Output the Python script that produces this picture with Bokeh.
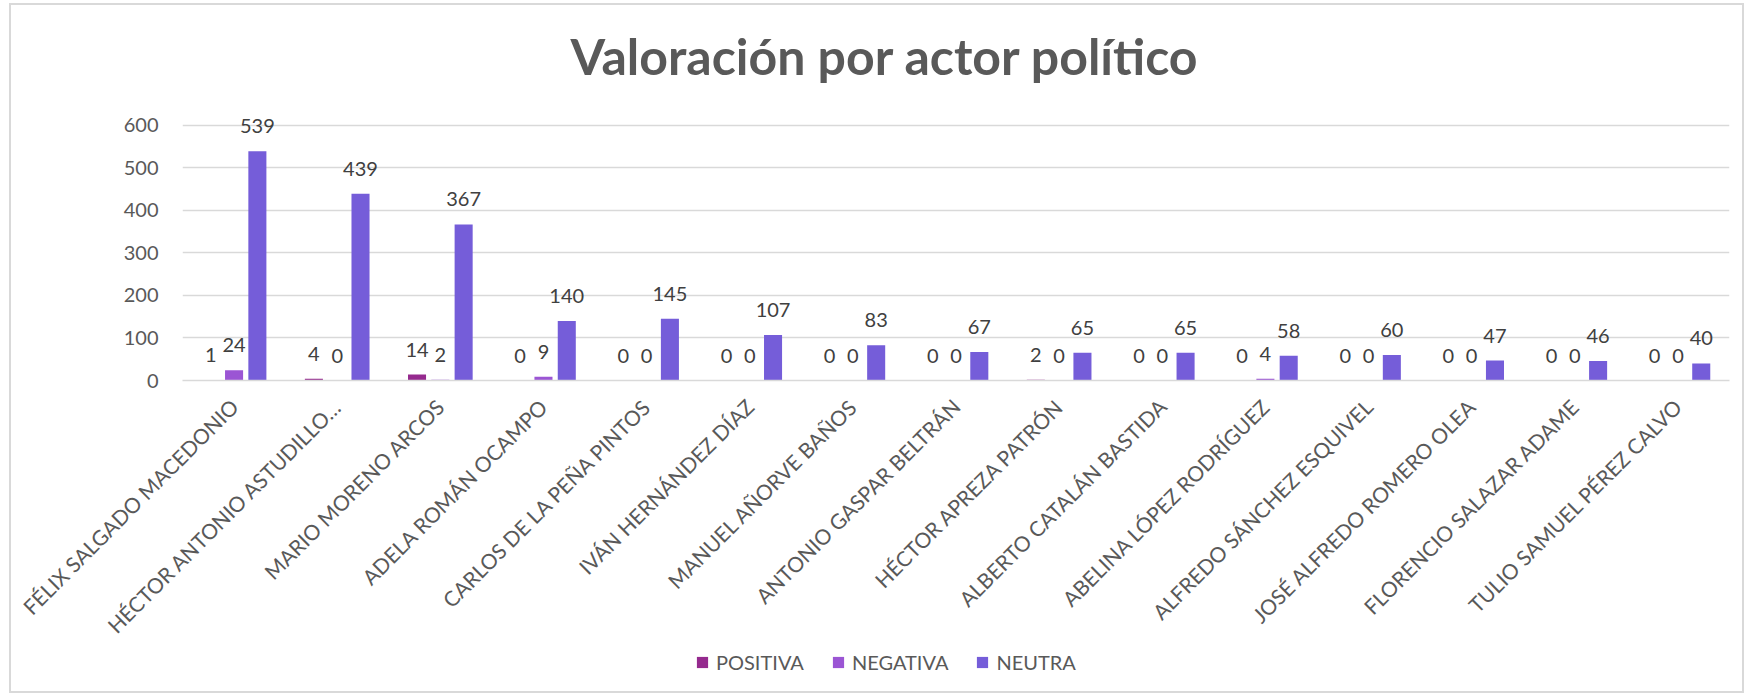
import math
from bokeh.plotting import figure
from bokeh.layouts import column
from bokeh.models import (ColumnDataSource, FactorRange, Range1d, FixedTicker,
                          LabelSet, Legend, LegendItem)
from bokeh.transform import dodge
from bokeh.core.properties import value
from bokeh.embed import file_html
from bokeh.resources import INLINE

title_text = "Valoración por actor político"
categories = [
    "FÉLIX SALGADO MACEDONIO",
    "HÉCTOR ANTONIO ASTUDILLO…",
    "MARIO MORENO ARCOS",
    "ADELA ROMÁN OCAMPO",
    "CARLOS DE LA PEÑA PINTOS",
    "IVÁN HERNÁNDEZ DÍAZ",
    "MANUEL AÑORVE BAÑOS",
    "ANTONIO GASPAR BELTRÁN",
    "HÉCTOR APREZA PATRÓN",
    "ALBERTO CATALÁN BASTIDA",
    "ABELINA LÓPEZ RODRÍGUEZ",
    "ALFREDO SÁNCHEZ ESQUIVEL",
    "JOSÉ ALFREDO ROMERO OLEA",
    "FLORENCIO SALAZAR ADAME",
    "TULIO SAMUEL PÉREZ CALVO",
]
positiva = [1, 4, 14, 0, 0, 0, 0, 0, 2, 0, 0, 0, 0, 0, 0]
negativa = [24, 0, 2, 9, 0, 0, 0, 0, 0, 0, 4, 0, 0, 0, 0]
neutra = [539, 439, 367, 140, 145, 107, 83, 67, 65, 65, 58, 60, 47, 46, 40]
series_names = ["POSITIVA", "NEGATIVA", "NEUTRA"]
series_keys = ["positiva", "negativa", "neutra"]
colors = ["#952A8E", "#9B55D4", "#755DD9"]
y_ticks = [0, 100, 200, 300, 400, 500, 600]

FONT = "Lato"
GRAY = "#595959"
GRID = "#D9D9D9"
BORDER = "2px solid #D9D9D9"

src = ColumnDataSource(dict(
    cat=categories,
    positiva=positiva, negativa=negativa, neutra=neutra,
    positiva_txt=[str(v) for v in positiva],
    negativa_txt=[str(v) for v in negativa],
    neutra_txt=[str(v) for v in neutra],
))

p = figure(x_range=FactorRange(*categories, range_padding=0),
           y_range=Range1d(0, 649),
           width=1735, height=648,
           output_backend="svg", toolbar_location=None,
           min_border_left=171, min_border_right=17,
           min_border_top=60, min_border_bottom=273,
           styles={"border-top": BORDER, "border-left": BORDER,
                   "border-right": BORDER})

p.title.text = title_text
p.title.align = "left"
p.title.offset = 388
p.title.standoff = 37
p.title.text_font = FONT
p.title.text_font_size = "50px"
p.title.text_font_style = "bold"
p.title.text_color = GRAY

offsets = [-0.226, 0.0, 0.226]
for key, off, col in zip(series_keys, offsets, colors):
    p.vbar(x=dodge("cat", off, range=p.x_range), top=key, width=0.175,
           source=src, fill_color=col, line_color=None)
    lbl = LabelSet(x=dodge("cat", off, range=p.x_range), y=key, text=key + "_txt",
                   source=src, text_align="center", text_baseline="alphabetic",
                   y_offset=18, text_font=value(FONT), text_font_size="20px",
                   text_color="#404040")
    p.add_layout(lbl)

p.yaxis.ticker = FixedTicker(ticks=y_ticks)
p.yaxis.axis_line_color = None
p.yaxis.major_tick_line_color = None
p.yaxis.minor_tick_line_color = None
p.yaxis.major_tick_out = 0
p.yaxis.major_tick_in = 0
p.yaxis.major_label_standoff = 24
p.yaxis.major_label_text_font = FONT
p.yaxis.major_label_text_font_size = "20px"
p.yaxis.major_label_text_color = GRAY

p.xaxis.axis_line_color = GRID
p.xaxis.axis_line_width = 1.5
p.xaxis.major_tick_line_color = None
p.xaxis.minor_tick_line_color = None
p.xaxis.major_tick_out = 0
p.xaxis.major_tick_in = 0
p.xaxis.major_label_orientation = math.pi / 4
p.xaxis.major_label_standoff = 22
p.xaxis.major_label_text_font = FONT
p.xaxis.major_label_text_font_size = "21px"
p.xaxis.major_label_text_color = GRAY

p.xgrid.grid_line_color = None
p.ygrid.ticker = FixedTicker(ticks=y_ticks)
p.ygrid.grid_line_color = GRID
p.ygrid.grid_line_width = 1.5
p.outline_line_color = None

# legend strip: hidden copies of the series give the swatches
q = figure(width=1735, height=42, output_backend="svg", toolbar_location=None,
           x_range=FactorRange(*categories, range_padding=0), y_range=Range1d(0, 1),
           x_axis_location=None, y_axis_location=None,
           min_border=0,
           styles={"border-bottom": BORDER, "border-left": BORDER,
                   "border-right": BORDER})
q.xgrid.visible = False
q.ygrid.visible = False
q.outline_line_color = None
swatches = [q.vbar(x="cat", top=key, width=0.175, source=src, fill_color=c,
                   line_color=None, visible=False)
            for key, c in zip(series_keys, colors)]
legend = Legend(items=[LegendItem(label=n, renderers=[r]) for n, r in zip(series_names, swatches)],
                orientation="horizontal", location=(513, 19),
                glyph_width=14, glyph_height=14, label_standoff=7, spacing=27,
                padding=0, margin=0, border_line_color=None,
                background_fill_alpha=0, inactive_fill_alpha=0,
                label_text_font=FONT, label_text_font_size="20px",
                label_text_color=GRAY)
q.add_layout(legend)

layout = column(p, q, spacing=0, styles={"margin-left": "9px", "margin-top": "3px"})

open("out.html", "w").write(file_html(layout, INLINE))
